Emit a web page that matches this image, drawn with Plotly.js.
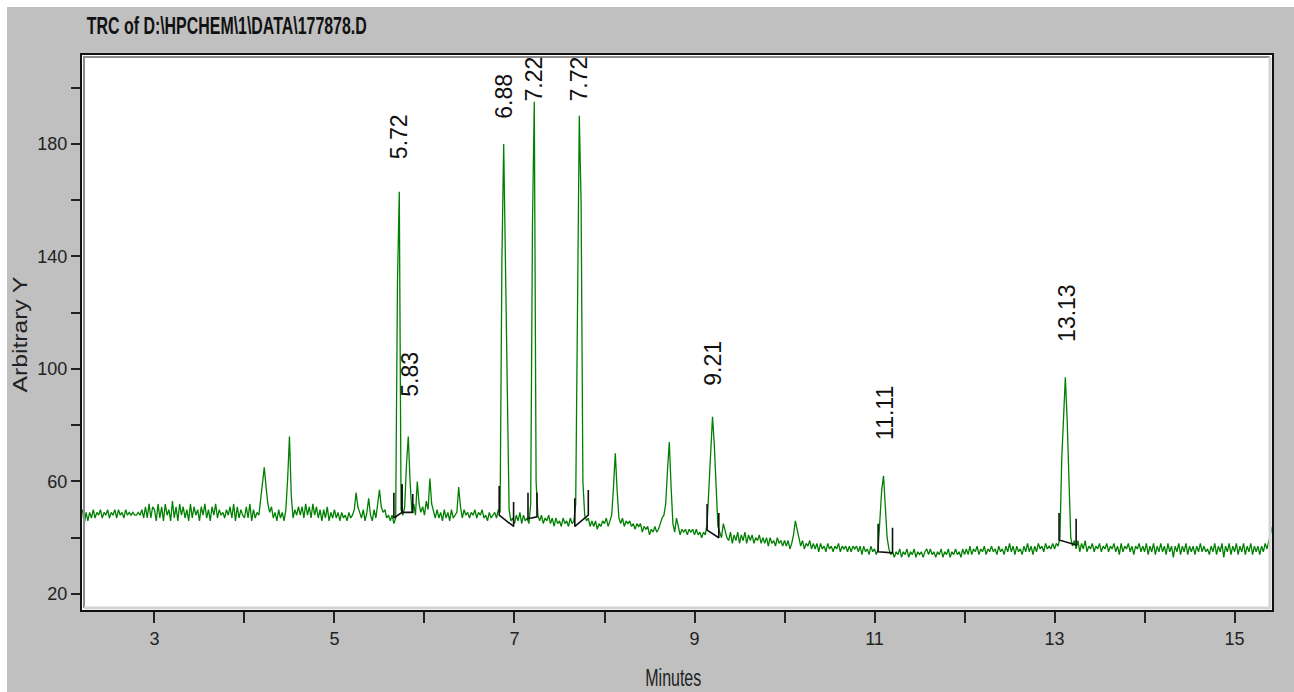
<!DOCTYPE html>
<html>
<head>
<meta charset="utf-8">
<script src="https://cdn.plot.ly/plotly-3.0.1.min.js"></script>
<style>
  html, body { margin: 0; padding: 0; background: #ffffff; }
  #plot { position: absolute; left: 7px; top: 7px; width: 1287px; height: 685px; }
</style>
</head>
<body>
<div id="plot"></div>
<script>
// sampling grid of the trace (minutes)
const T0 = 2.20;
const DT = 0.02;

// detector signal, one row per minute
const signal = [
  50,45,49,46,49,47,50,47,49,48, 50,47,49,48,50,47,49,48,50,47, 50,48,49,47,50,48,49,48,49,48, 48,49,48,50,47,51,47,52,47,51,
  50,46,52,47,51,46,52,48,50,46, 53,47,51,46,52,48,51,47,50,46, 52,47,51,48,50,46,51,48,52,47, 50,46,51,48,52,47,50,48,49,47, 50,48,51,47,52,46,51,47,50,48,
  47,51,47,52,46,50,47,49,48,53, 60,65,58,52,49,51,47,49,46,50, 47,49,46,50,61,76,55,47,50,48, 51,48,51,47,52,48,51,47,52,48, 51,47,50,46,50,47,51,46,49,47,
  50,47,49,46,49,47,48,46,49,47, 48,50,56,51,49,47,50,46,49,54, 48,46,50,47,52,57,51,49,50,47, 48,46,48,45,47,131,163,50,48,51, 66,76,60,49,52,48,60,52,49,51,
  48,53,50,61,52,49,47,50,47,49, 46,50,47,49,46,50,47,48,49,58, 51,47,50,48,49,47,49,48,50,47, 49,48,50,47,48,46,49,47,48,49, 47,50,49,138,180,137,81,50,46,47,
  45,48,46,49,45,48,46,47,45,52, 152,195,60,48,46,48,45,47,46,48, 45,47,44,47,45,46,44,47,45,46, 44,47,45,46,52,131,190,159,60,48, 46,47,44,46,44,46,43,45,44,46,
  45,47,44,46,48,58,70,57,47,45, 47,44,46,45,46,44,45,43,45,44, 45,42,44,43,44,41,43,42,44,42, 43,45,47,48,52,64,74,58,45,42, 47,44,41,43,42,43,41,43,42,43,
  41,43,41,42,40,42,41,45,58,73, 83,73,56,44,42,40,45,42,40,39, 42,38,41,39,42,38,41,39,42,38, 41,39,41,38,40,39,41,38,40,38, 40,37,40,38,39,37,40,38,39,37,
  39,37,39,36,38,41,46,43,40,37, 39,36,38,37,39,36,38,36,38,35, 38,36,37,35,38,36,37,35,37,36, 38,35,37,36,37,35,37,35,37,36, 37,35,37,34,37,35,36,34,37,35,
  36,34,36,45,57,62,50,40,36,34, 35,33,35,34,36,33,35,34,36,33, 35,34,36,33,35,34,35,33,35,36, 34,36,34,35,33,35,34,36,33,35, 34,36,33,35,34,36,34,35,33,36,
  34,36,34,37,34,36,35,37,34,36, 35,37,34,36,35,37,35,36,34,37, 35,36,34,37,35,38,35,37,34,37, 35,36,34,37,35,38,35,37,34,37, 35,38,36,37,35,38,36,37,36,38,
  36,38,37,40,68,83,97,82,56,40, 37,39,36,39,35,38,36,39,35,37, 36,38,35,37,36,38,35,37,36,38, 35,37,36,38,35,37,34,38,35,37, 36,38,35,37,34,37,36,38,35,37,
  35,38,34,37,35,38,34,37,35,38, 35,37,34,38,35,37,33,37,35,38, 34,37,35,38,34,37,35,37,34,37, 35,38,35,37,35,36,34,37,35,38, 34,37,35,38,33,37,35,38,34,37,
  35,38,34,37,35,38,34,37,35,38, 34,37,35,37,34,37,35,38,36,39, 42,44
];

// labelled retention times and height of their labels
const peakTimes = [5.72, 5.83, 6.88, 7.22, 7.72, 9.21, 11.11, 13.13];
const peakLabelY = [182.5, 98, 197, 203, 203, 102, 84.5, 120];

// integration events: start/end time, baseline level, marker top
const intStart     = [5.66, 5.75, 6.83, 7.15, 7.67, 9.14, 11.04, 13.05];
const intStartBase = [47, 49, 48, 46.7, 44, 42.7, 35, 39.2];
const intStartTop  = [56, 59, 58.4, 56, 54, 52, 45, 48.8];
const intEnd       = [5.75, 5.87, 6.99, 7.25, 7.82, 9.27, 11.20, 13.24];
const intEndBase   = [49, 49, 44, 47.4, 48, 40, 34.6, 37.4];
const intEndTop    = [59, 55.5, 52.7, 56, 57, 48.8, 43.5, 46.7];

const times = signal.map((_, i) => +(T0 + i * DT).toFixed(2));

const bx = [], by = [];
intStart.forEach((t, i) => {
  bx.push(t, t, intEnd[i], intEnd[i], null);
  by.push(intStartTop[i], intStartBase[i], intEndBase[i], intEndTop[i], null);
});

const data = [
  {
    x: times, y: signal,
    mode: "lines",
    line: { color: "#008000", width: 1.3 },
    hoverinfo: "x+y"
  },
  {
    x: bx, y: by,
    mode: "lines",
    line: { color: "#111111", width: 1.6 },
    connectgaps: false,
    hoverinfo: "skip"
  }
];

const labelFont = { family: "Liberation Sans, Arial, sans-serif", size: 23, color: "#111111" };
const annotations = peakTimes.map((t, i) => ({
  x: t, y: peakLabelY[i], xref: "x", yref: "y",
  text: t.toFixed(2), textangle: -90, showarrow: false,
  xanchor: "center", yanchor: "middle", font: labelFont
}));

annotations.push({
  xref: "paper", yref: "paper", x: -0.0525, y: 0.4955,
  text: "Arbitrary Y", textangle: -90, showarrow: false,
  xanchor: "center", yanchor: "middle",
  font: { family: "Liberation Sans, Arial, sans-serif", size: 20, color: "#222222" }
});
annotations.push({
  xref: "paper", yref: "paper", x: 0.497, y: -0.0955,
  text: "Minutes", showarrow: false,
  xanchor: "center", yanchor: "top",
  font: { family: "Liberation Sans, Arial, sans-serif", size: 23, color: "#222222" }
});

const dx = 2 / 1190, dy = 2 / 555;

const layout = {
  width: 1287, height: 685,
  paper_bgcolor: "#c0c0c0",
  plot_bgcolor: "#ffffff",
  margin: { l: 75, r: 22, t: 48, b: 82 },
  showlegend: false,
  title: {
    text: "<b>TRC of D:\\HPCHEM\\1\\DATA\\177878.D</b>",
    x: 0.004, xanchor: "left", xref: "paper",
    y: 0.972, yanchor: "middle",
    font: { family: "Liberation Sans, Arial, sans-serif", size: 23, color: "#111111" }
  },
  xaxis: {
    range: [2.195, 15.416],
    tickmode: "linear", tick0: 3, dtick: 2,
    ticks: "outside", ticklen: 11, tickwidth: 2, tickcolor: "#222222",
    minor: { tickmode: "linear", tick0: 3, dtick: 1, ticks: "outside", ticklen: 11, tickwidth: 2, tickcolor: "#222222" },
    showgrid: false, zeroline: false,
    showline: true, linecolor: "#111111", linewidth: 2, mirror: true,
    tickfont: { family: "Liberation Sans, Arial, sans-serif", size: 18, color: "#222222" }
  },
  yaxis: {
    range: [14.3, 211.6],
    tickmode: "linear", tick0: 20, dtick: 40,
    ticks: "outside", ticklen: 9, tickwidth: 2, tickcolor: "#222222",
    minor: { tickmode: "linear", tick0: 20, dtick: 20, ticks: "outside", ticklen: 9, tickwidth: 2, tickcolor: "#222222" },
    showgrid: false, zeroline: false,
    showline: true, linecolor: "#111111", linewidth: 2, mirror: true,
    tickfont: { family: "Liberation Sans, Arial, sans-serif", size: 18, color: "#222222" }
  },
  shapes: [
    { type: "path", xref: "paper", yref: "paper", layer: "above",
      path: `M ${dx},${dy} L ${dx},${1 - dy} L ${1 - dx},${1 - dy}`,
      line: { color: "#8c8c8c", width: 2 } },
    { type: "path", xref: "paper", yref: "paper", layer: "above",
      path: `M ${dx},${dy} L ${1 - dx},${dy} L ${1 - dx},${1 - dy}`,
      line: { color: "#d4d4d4", width: 3 } }
  ],
  annotations: annotations
};

// squeeze a text element to a given width (the original uses a condensed face)
function squeeze(el, len) {
  if (!el) return;
  el.setAttribute("textLength", len);
  el.setAttribute("lengthAdjust", "spacingAndGlyphs");
}

Plotly.newPlot("plot", data, layout, { displayModeBar: false, staticPlot: true }).then(gd => {
  squeeze(gd.querySelector(".gtitle"), 280);
  gd.querySelectorAll(".annotation-text").forEach(el => {
    if (el.textContent === "Minutes") squeeze(el, 56);
    if (el.textContent === "Arbitrary Y") squeeze(el, 116);
  });
});
</script>
</body>
</html>
